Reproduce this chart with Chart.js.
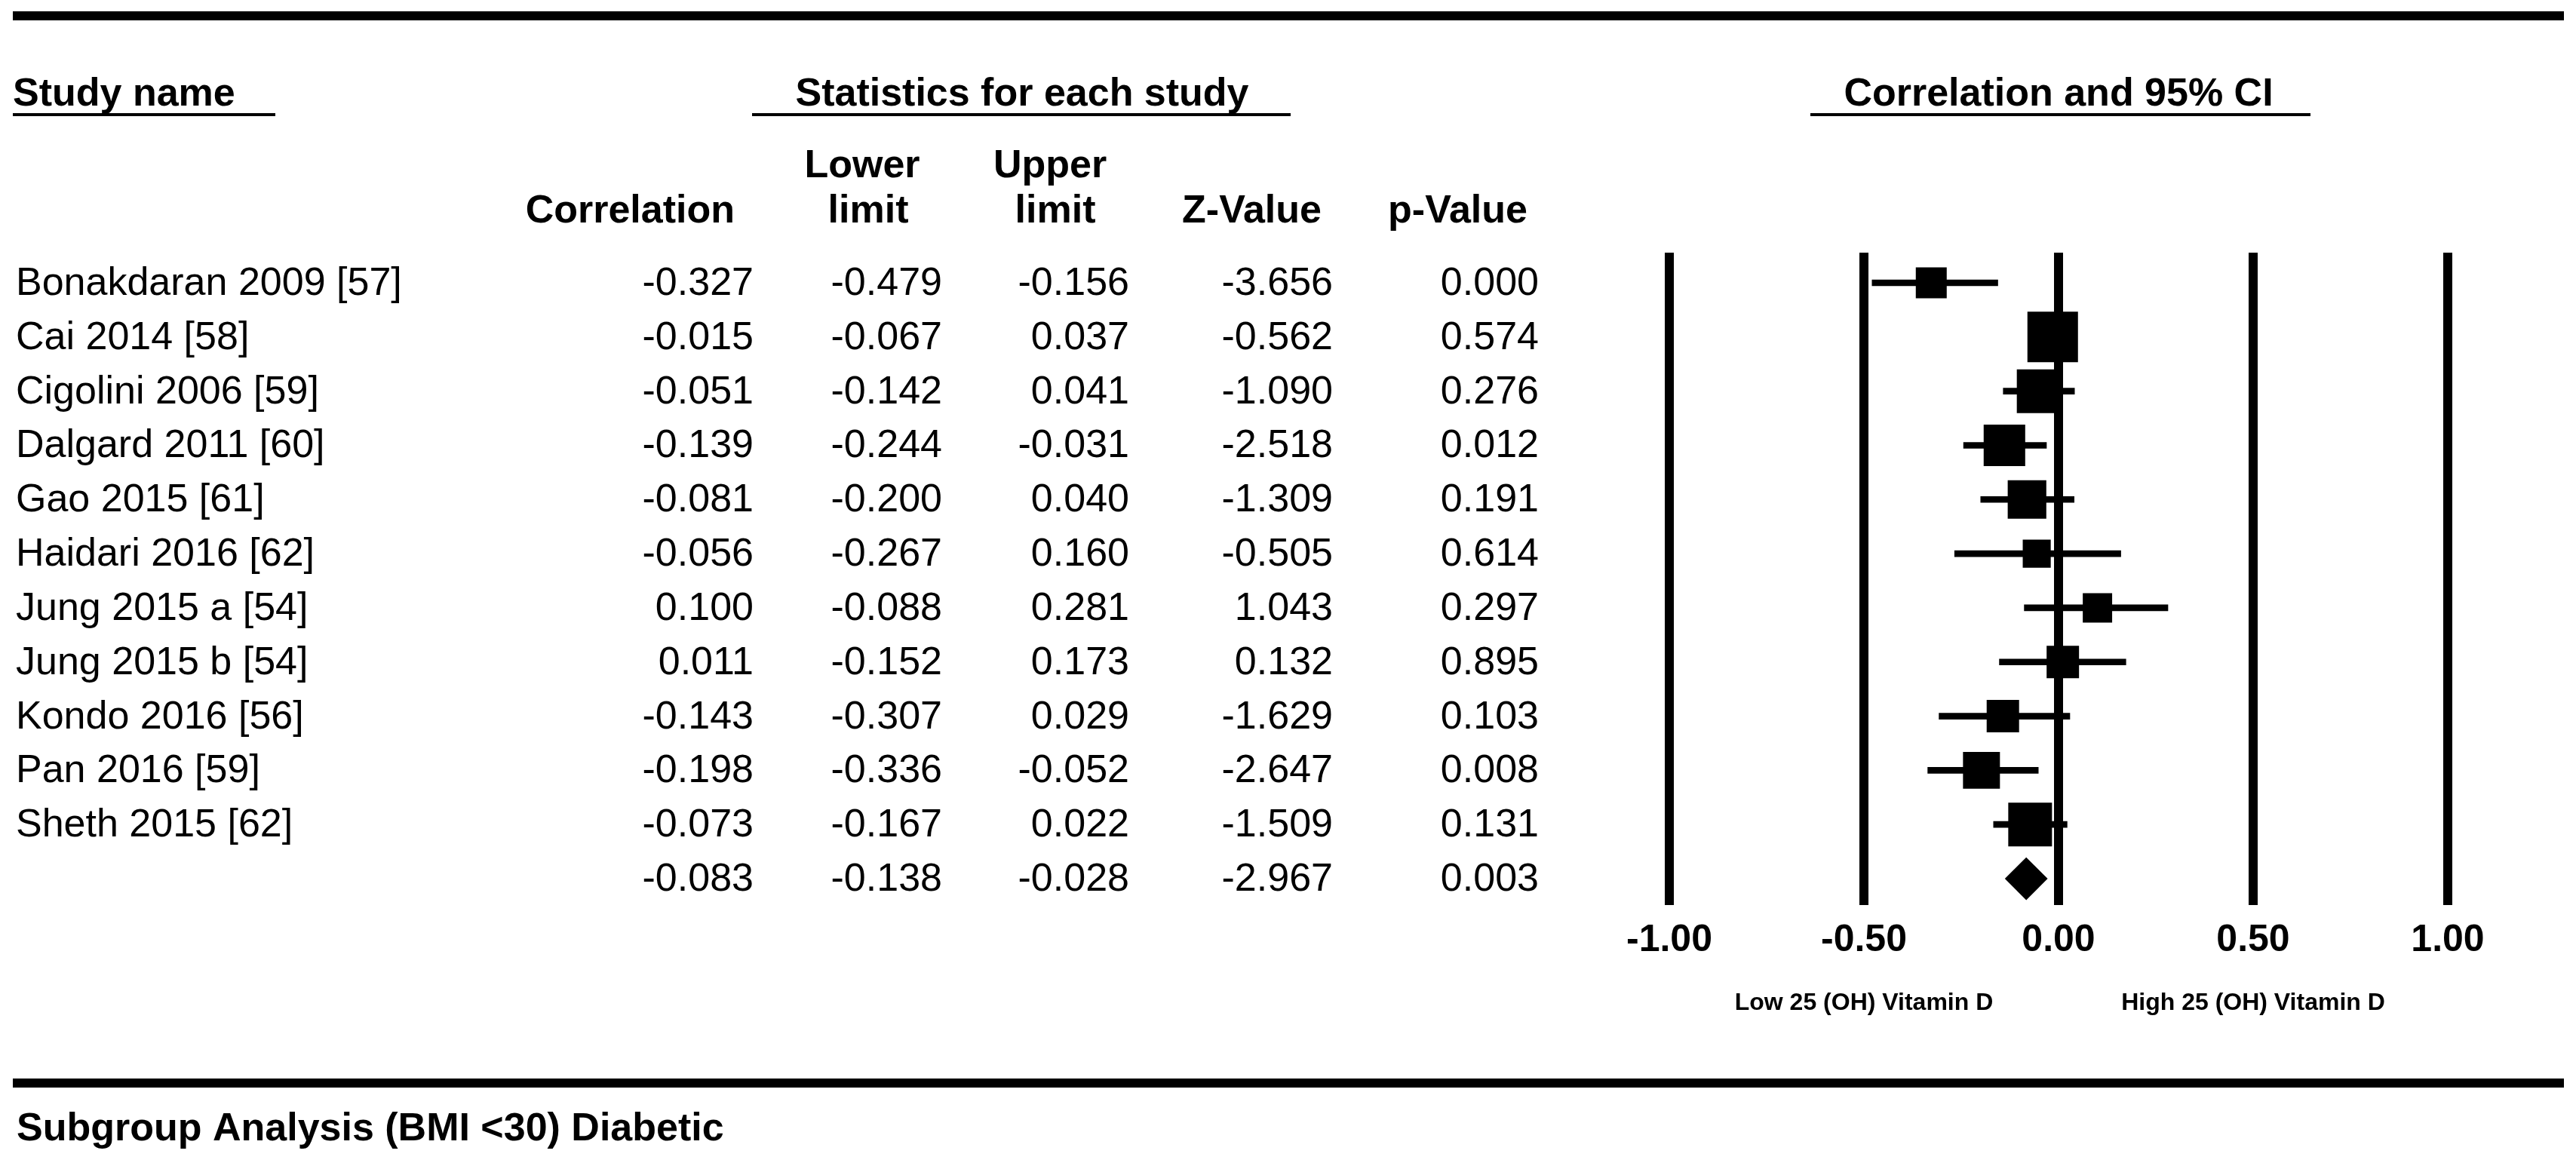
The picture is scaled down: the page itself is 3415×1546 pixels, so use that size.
<!DOCTYPE html>
<html>
<head>
<meta charset="utf-8">
<script src="https://cdn.jsdelivr.net/npm/chart.js@4.4.1/dist/chart.umd.min.js"></script>
<style>
  html, body { margin: 0; padding: 0; background: #fff; }
  #wrap { width: 3415px; height: 1546px; position: relative; }
</style>
</head>
<body>
<div id="wrap"><canvas id="forest"></canvas></div>
<script>
// study rows
const studies = ['Bonakdaran 2009 [57]', 'Cai 2014 [58]', 'Cigolini 2006 [59]', 'Dalgard 2011 [60]',
  'Gao 2015 [61]', 'Haidari 2016 [62]', 'Jung 2015 a [54]', 'Jung 2015 b [54]',
  'Kondo 2016 [56]', 'Pan 2016 [59]', 'Sheth 2015 [62]'];
const correlation = [-0.327, -0.015, -0.051, -0.139, -0.081, -0.056, 0.100, 0.011, -0.143, -0.198, -0.073];
const lowerLimit  = [-0.479, -0.067, -0.142, -0.244, -0.200, -0.267, -0.088, -0.152, -0.307, -0.336, -0.167];
const upperLimit  = [-0.156, 0.037, 0.041, -0.031, 0.040, 0.160, 0.281, 0.173, 0.029, -0.052, 0.022];
const zValue      = [-3.656, -0.562, -1.090, -2.518, -1.309, -0.505, 1.043, 0.132, -1.629, -2.647, -1.509];
const pValue      = [0.000, 0.574, 0.276, 0.012, 0.191, 0.614, 0.297, 0.895, 0.103, 0.008, 0.131];
// relative weight (%)
const weights     = [6.1, 16.3, 12.2, 11.0, 9.5, 5.0, 5.5, 6.7, 6.7, 8.7, 12.2];

// pooled row
const summary = [-0.083, -0.138, -0.028, -2.967, 0.003];

const xTicks = [-1, -0.5, 0, 0.5, 1];
const directionTicks = [-0.5, 0.5];
const directionLabels = ['Low 25 (OH) Vitamin D', 'High 25 (OH) Vitamin D'];

const FONT = '"Liberation Sans", Arial, sans-serif';
Chart.defaults.font.family = FONT;
Chart.defaults.color = '#000';

// text columns: right edge of the numbers
const numCols = [999, 1249, 1497, 1767, 2040];

const tablePlugin = {
  id: 'forestTable',
  afterDraw(chart) {
    const ctx = chart.ctx;
    const y = chart.scales.y;
    const x = chart.scales.x;
    ctx.save();
    ctx.fillStyle = '#000';

    // rules
    ctx.fillRect(17, 15, 3382, 12);
    ctx.fillRect(17, 1430, 3382, 12);
    ctx.fillRect(17, 150, 348, 4);
    ctx.fillRect(997, 150, 714, 4);
    ctx.fillRect(2400, 150, 663, 4);

    ctx.textBaseline = 'alphabetic';
    ctx.font = 'bold 52px ' + FONT;
    ctx.textAlign = 'left';
    ctx.fillText('Study name', 17, 140);
    ctx.fillText('Subgroup Analysis (BMI <30) Diabetic', 22, 1512);
    ctx.textAlign = 'center';
    ctx.fillText('Statistics for each study', 1355, 140);
    ctx.fillText('Correlation and 95% CI', x.getPixelForValue(0), 140);
    ctx.fillText('Lower', 1143, 235);
    ctx.fillText('limit', 1151, 295);
    ctx.fillText('Upper', 1392, 235);
    ctx.fillText('limit', 1399, 295);
    ctx.textAlign = 'right';
    ctx.fillText('Correlation', 974, 295);
    ctx.fillText('Z-Value', 1752, 295);
    ctx.fillText('p-Value', 2025, 295);

    ctx.font = '52px ' + FONT;
    studies.forEach((name, i) => {
      const base = y.getPixelForValue(i) + 16;
      ctx.textAlign = 'left';
      ctx.fillText(name, 21, base);
      ctx.textAlign = 'right';
      [correlation[i], lowerLimit[i], upperLimit[i], zValue[i], pValue[i]].forEach((v, c) => {
        ctx.fillText(v.toFixed(3), numCols[c], base);
      });
    });
    const sumBase = y.getPixelForValue(studies.length) + 16;
    summary.forEach((v, c) => ctx.fillText(v.toFixed(3), numCols[c], sumBase));
    ctx.restore();
  }
};

new Chart('forest', {
  type: 'scatter',
  data: {
    datasets: [
      {
        type: 'bar',
        indexAxis: 'y',
        data: studies.map((s, i) => ({ x: [lowerLimit[i], upperLimit[i]], y: i })),
        backgroundColor: '#000',
        barThickness: 8,
        grouped: false,
        borderWidth: 0
      },
      {
        data: studies.map((s, i) => ({ x: correlation[i], y: i })),
        pointStyle: 'rect',
        pointRadius: weights.map(w => 16.6 * Math.sqrt(w) / Math.SQRT2),
        backgroundColor: '#000',
        borderWidth: 0
      },
      {
        data: [{ x: summary[0], y: studies.length }],
        pointStyle: 'rectRot',
        pointRadius: (c) => {
          const sx = c.chart.scales.x;
          const r = (sx.getPixelForValue(summary[2]) - sx.getPixelForValue(summary[1])) / 2;
          return isFinite(r) && r > 0 ? r : 30;
        },
        backgroundColor: '#000',
        borderWidth: 0
      }
    ]
  },
  options: {
    responsive: true,
    maintainAspectRatio: false,
    animation: false,
    events: [],
    layout: { padding: { left: 2213, right: 170, top: 335, bottom: 186 } },
    plugins: { legend: { display: false }, tooltip: { enabled: false } },
    scales: {
      x: {
        type: 'linear',
        position: 'bottom',
        weight: 0,
        min: -1,
        max: 1,
        offset: false,
        afterFit: (s) => { s.height = 100; },
        afterBuildTicks: (s) => { s.ticks = xTicks.map(v => ({ value: v })); },
        grid: { color: '#000', lineWidth: 12, drawTicks: false, offset: false },
        border: { display: false },
        ticks: {
          padding: 17,
          autoSkip: false,
          maxRotation: 0,
          color: '#000',
          font: { size: 50, weight: 'bold' },
          callback: (v) => Number(v).toFixed(2)
        }
      },
      x2: {
        type: 'linear',
        position: 'bottom',
        weight: 1,
        min: -1,
        max: 1,
        offset: false,
        afterFit: (s) => { s.height = 60; },
        afterBuildTicks: (s) => { s.ticks = directionTicks.map(v => ({ value: v })); },
        grid: { display: false },
        border: { display: false },
        ticks: {
          padding: 3,
          autoSkip: false,
          maxRotation: 0,
          color: '#000',
          font: { size: 32, weight: 'bold' },
          callback: (v, i) => directionLabels[i]
        }
      },
      y: {
        type: 'linear',
        display: false,
        reverse: true,
        offset: false,
        grid: { offset: false },
        min: -0.557,
        max: 11.487
      }
    }
  },
  plugins: [tablePlugin]
});
</script>
</body>
</html>
